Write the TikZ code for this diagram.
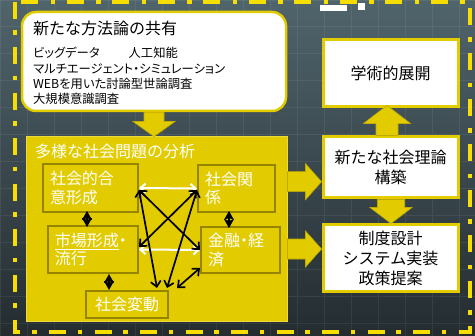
\documentclass[tikz,border=0pt]{standalone}
\usepackage{fontspec}
\setmainfont{Noto Sans CJK JP}
\newfontfamily\pfont[RawFeature=+palt]{Noto Sans CJK JP}
\usetikzlibrary{arrows.meta,calc}
\definecolor{ylw}{RGB}{226,204,0}
\definecolor{ylwb}{RGB}{245,222,0}
\definecolor{olv}{RGB}{150,132,0}
\definecolor{arrowedge}{RGB}{190,170,0}
\definecolor{bgtop}{RGB}{80,100,108}
\definecolor{bgbot}{RGB}{36,44,48}

\newcommand\rblock[5]{%
 \filldraw[blockarrow] let \p1=(#1), \p2=(#2) in
 (\x1,\y1+#3pt) -- (\x2-#5pt,\y1+#3pt) -- (\x2-#5pt,\y1+#4pt) -- (\x2,\y1) --
 (\x2-#5pt,\y1-#4pt) -- (\x2-#5pt,\y1-#3pt) -- (\x1,\y1-#3pt) -- cycle;}
\newcommand\vblock[5]{%
 \filldraw[blockarrow] let \p1=(#1), \p2=(#2), \n1={(\y2>\y1)*2-1} in
 ({\x1-#3pt},\y1) -- ({\x1-#3pt},{\y2-(\n1)*#5pt}) -- ({\x1-#4pt},{\y2-(\n1)*#5pt}) -- (\x1,\y2) --
 ({\x1+#4pt},{\y2-(\n1)*#5pt}) -- ({\x1+#3pt},{\y2-(\n1)*#5pt}) -- ({\x1+#3pt},\y1) -- cycle;}

\tikzset{
 blockarrow/.style={fill=ylw, draw=arrowedge, line width=0.6pt},
 wbox/.style={fill=white, draw=ylw, line width=2.5pt, rounded corners=14pt, inner sep=0pt},
 ibox/.style={draw=olv, line width=2pt, fill=ylw, text=white, inner xsep=7pt, inner ysep=0pt,
   align=left, font=\pfont\fontsize{16}{18.5}\selectfont},
 rbox/.style={draw=ylw, line width=3pt, fill=white, align=center, inner sep=0pt,
   minimum width=135pt, font=\fontsize{16}{20}\selectfont},
 wdarrow/.style={white, line width=2pt, {Straight Barb[length=5pt,width=9pt]}-{Straight Barb[length=5pt,width=9pt]}},
 bdarrow/.style={black, line width=1.7pt, {Straight Barb[length=5.5pt,width=10pt]}-{Straight Barb[length=5.5pt,width=10pt]}},
 vdarrow/.style={black, line width=1.5pt, {Stealth[length=9pt,width=10pt,inset=2pt]}-{Stealth[length=9pt,width=10pt,inset=2pt]}},
}

\begin{document}
\begin{tikzpicture}[x=1pt,y=-1pt]
\useasboundingbox (0,0) rectangle (475,336);
\shade[top color=bgtop, bottom color=bgbot] (0,0) rectangle (475,336);
\draw[white, opacity=0.07, line width=1pt, step=27pt] (0,0) grid (475,336);
\draw[ylwb, line width=4pt, dash pattern=on 17pt off 11.5pt on 4.5pt off 12.5pt] (15,2) rectangle (470,332);
\fill[white] (320,5) rectangle (347,11);
\fill[white] (358,3) rectangle (365,10);

% top-left white box
\node[wbox, minimum width=264pt, minimum height=99pt] (wb) at (154,61.5) {};
\node[anchor=west, inner sep=0pt, font=\fontsize{16}{18}\selectfont] (wbt) at (33,28) {新たな方法論の共有};
\node[anchor=west, inner sep=0pt, align=left, font=\pfont\fontsize{12.3}{15.3}\selectfont] (wbl) at (33,76)
 {ビッグデータ\hspace{29pt}人工知能\\マルチエージェント・シミュレーション\\WEBを用いた討論型世論調査\\大規模意識調査};

% yellow analysis box
\node[fill=ylw, draw={rgb,255:red,238;green,218;blue,60}, line width=1pt, minimum width=261pt, minimum height=185pt, inner sep=0pt] (yb) at (156.5,229.5) {};
\node[anchor=west, inner sep=0pt, text=white, font=\fontsize{16}{18}\selectfont] (ybt) at (35,151.5) {多様な社会問題の分析};

\node[ibox, text width=81pt, minimum height=48pt] (n1) at (90.5,188) {社会的合\\意形成};
\node[ibox, text width=76pt, minimum height=47pt] (n2) at (93,249.5) {\underline{市場形成}・\\流行};
\node[ibox, text width=68pt, minimum height=27pt, align=center] (n3) at (127,304.5) {社会変動};
\node[ibox, text width=63pt, minimum height=47pt] (n4) at (236.5,188.5) {社会関\\係};
\node[ibox, text width=65pt, minimum height=46pt] (n5) at (240.5,250) {金融・経\\済};

% right boxes
\node[rbox, minimum height=67pt] (r1) at (390.5,73.5) {学術的展開};
\node[rbox, minimum height=61pt] (r2) at (390.5,167.5) {新たな社会理論\\構築};
\node[rbox, minimum height=67pt] (r3) at (390.5,258.5) {制度設計\\システム実装\\政策提案};

% connectors inside the yellow box
\draw[wdarrow] (n1.east) -- (n4.west);
\draw[wdarrow] (n2.east) -- (n5.west);
\draw[bdarrow] ([yshift=-2pt]n1.east) -- (n5.west);
\draw[bdarrow] ([yshift=-1.5pt]n4.west) -- ([yshift=2.5pt]n2.east);
\draw[bdarrow] ([yshift=-2pt]n1.east) -- ([xshift=30pt,yshift=2pt]n3.north);
\draw[bdarrow] ([yshift=-1.5pt]n4.west) -- ([xshift=40pt,yshift=2pt]n3.north);
\draw[bdarrow] ([yshift=6pt]n5.south west) -- ([xshift=8pt,yshift=2pt]n3.north east);
\draw[vdarrow] ([xshift=-3.5pt,yshift=2pt]n1.south) -- ([xshift=-6pt,yshift=-2pt]n2.north);
\draw[vdarrow] ([xshift=16pt]n2.south) -- ([xshift=-18pt]n3.north);
\draw[vdarrow] ([xshift=-7.5pt,yshift=2pt]n4.south) -- ([xshift=-11.5pt,yshift=-2pt]n5.north);

% block arrows
\coordinate (h1) at ($(yb.north east)!0.243!(yb.south east)$);
\coordinate (h2) at ($(yb.north east)!0.605!(yb.south east)$);
\rblock{h1}{h1 -| r2.west}{10}{18}{16}
\rblock{h2}{h2 -| r3.west}{10}{18}{16}
\vblock{wb.south}{wb.south |- yb.north}{10}{21}{15}
\vblock{[xshift=-3.5pt]r2.north}{[xshift=-3.5pt,yshift=3pt]r1.south}{11}{23.5}{18}
\vblock{[xshift=0.5pt]r2.south}{[xshift=0.5pt]r3.north}{13.5}{21}{16}
\end{tikzpicture}
\end{document}
